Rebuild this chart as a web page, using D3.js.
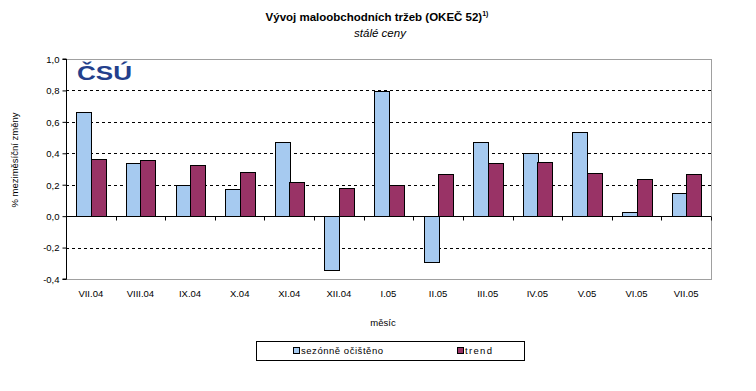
<!DOCTYPE html>
<html><head><meta charset="utf-8">
<script src="https://cdn.jsdelivr.net/npm/d3@7"></script>
<style>body{margin:0;background:#fff;} text{font-family:"Liberation Sans",Arial,sans-serif;}</style>
</head><body>
<svg id="c" width="756" height="391"></svg>
<script>
const categories = ["VII.04","VIII.04","IX.04","X.04","XI.04","XII.04","I.05","II.05","III.05","IV.05","V.05","VI.05","VII.05"];
const seasonal = [0.66,0.336,0.195,0.17,0.469,-0.346,0.794,-0.295,0.469,0.399,0.533,0.024,0.145];
const trend = [0.361,0.355,0.323,0.278,0.215,0.176,0.197,0.265,0.336,0.342,0.272,0.234,0.265];
const yTicks = [-0.4,-0.2,0,0.2,0.4,0.6,0.8,1.0];
const seriesNames = ["sezónně očištěno","trend"];
const colors = ["#a6caf0","#993366"];

const svg = d3.select("#c");
const L=66, R=711, T=59, B=279;
const x0 = d3.scaleBand().domain(categories).range([L,R]);
const y = d3.scaleLinear().domain([-0.4,1.0]).range([B,T]);

// plot border (gray)
svg.append("rect").attr("x",L).attr("y",T).attr("width",R-L).attr("height",B-T)
  .attr("fill","none").attr("stroke","#a0a0a0").attr("stroke-width",1).attr("shape-rendering","crispEdges");

// gridlines
svg.append("g").selectAll("line").data(yTicks.filter(d=>d!==0 && d!==-0.4 && d!==1.0)).join("line")
  .attr("x1",L).attr("x2",R).attr("y1",d=>Math.round(y(d))+0.5).attr("y2",d=>Math.round(y(d))+0.5)
  .attr("stroke","#000").attr("stroke-dasharray","3,3");

// bars
const bw = x0.bandwidth()*14.5/49.6;
const off = (x0.bandwidth()-2*bw)/2;
[seasonal,trend].forEach((vals,si)=>{
  svg.append("g").selectAll("rect").data(vals).join("rect")
    .attr("x",(d,i)=>Math.round(x0(categories[i])+off+si*bw)+0.5)
    .attr("width",Math.round(bw))
    .attr("y",d=>Math.round(y(Math.max(0,d)))+0.5)
    .attr("height",d=>Math.round(Math.abs(y(d)-y(0))))
    .attr("fill",colors[si]).attr("stroke","#000").attr("stroke-width",1);
});

// y axis
const yAxis = d3.axisLeft(y).tickValues(yTicks).tickSize(4).tickFormat(d=>d3.format(".1f")(d).replace(".",",").replace("−","-"));
const ga = svg.append("g").attr("transform",`translate(${L+0.5},0)`).call(yAxis);
ga.select(".domain").attr("stroke","#000").attr("d",`M-4,${T}H0V${B}H-4`);
ga.selectAll(".tick line").attr("stroke","#000");
ga.selectAll("text").attr("font-size","9.5px").attr("fill","#000").attr("x",-7).attr("dy","0.35em");

// x axis at zero
const gx = svg.append("g").attr("transform",`translate(0,${Math.round(y(0))+0.5})`);
gx.append("line").attr("x1",L).attr("x2",R).attr("stroke","#000");
gx.selectAll("line.t").data(d3.range(categories.length+1)).join("line").attr("class","t")
  .attr("x1",i=>Math.round(L+i*x0.bandwidth())+0.5).attr("x2",i=>Math.round(L+i*x0.bandwidth())+0.5)
  .attr("y1",0).attr("y2",4).attr("stroke","#000");

// x labels at bottom
svg.append("g").selectAll("text").data(categories).join("text")
  .attr("x",d=>x0(d)+x0.bandwidth()/2).attr("y",297)
  .attr("text-anchor","middle").attr("font-size","9.5px").text(d=>d);

// titles
const t = svg.append("text").attr("x",377).attr("y",21).attr("text-anchor","middle")
  .attr("font-size","11.5px").attr("font-weight","bold");
t.append("tspan").text("Vývoj maloobchodních tržeb (OKEČ 52)");
t.append("tspan").attr("font-size","7px").attr("dy","-5").text("1)");
svg.append("text").attr("x",380).attr("y",37).attr("text-anchor","middle")
  .attr("font-size","11.5px").attr("font-style","italic").text("stálé ceny");

// axis titles
svg.append("text").attr("transform","translate(18,160) rotate(-90)").attr("text-anchor","middle")
  .attr("font-size","9.5px").text("% meziměsíční změny");
svg.append("text").attr("x",383).attr("y",326).attr("text-anchor","middle").attr("font-size","9.5px").text("měsíc");

// logo
svg.append("text").attr("x",77).attr("y",80).attr("font-size","21px").attr("font-weight","900")
  .attr("font-family","'DejaVu Sans',sans-serif").attr("fill","#233f8c")
  .attr("textLength",55).attr("lengthAdjust","spacingAndGlyphs").text("ČSÚ");

// legend
const lg = svg.append("g");
lg.append("rect").attr("x",256.5).attr("y",341.5).attr("width",268).attr("height",19).attr("fill","#fff").attr("stroke","#000");
const lx = [293,457];
const lw = [82,27];
seriesNames.forEach((n,i)=>{
  lg.append("rect").attr("x",lx[i]+0.5).attr("y",347.5).attr("width",6).attr("height",6).attr("fill",colors[i]).attr("stroke","#000");
  lg.append("text").attr("x",lx[i]+8).attr("y",354).attr("font-size","9.5px")
    .attr("textLength",lw[i]).attr("lengthAdjust","spacing").text(n);
});
</script>
</body></html>
